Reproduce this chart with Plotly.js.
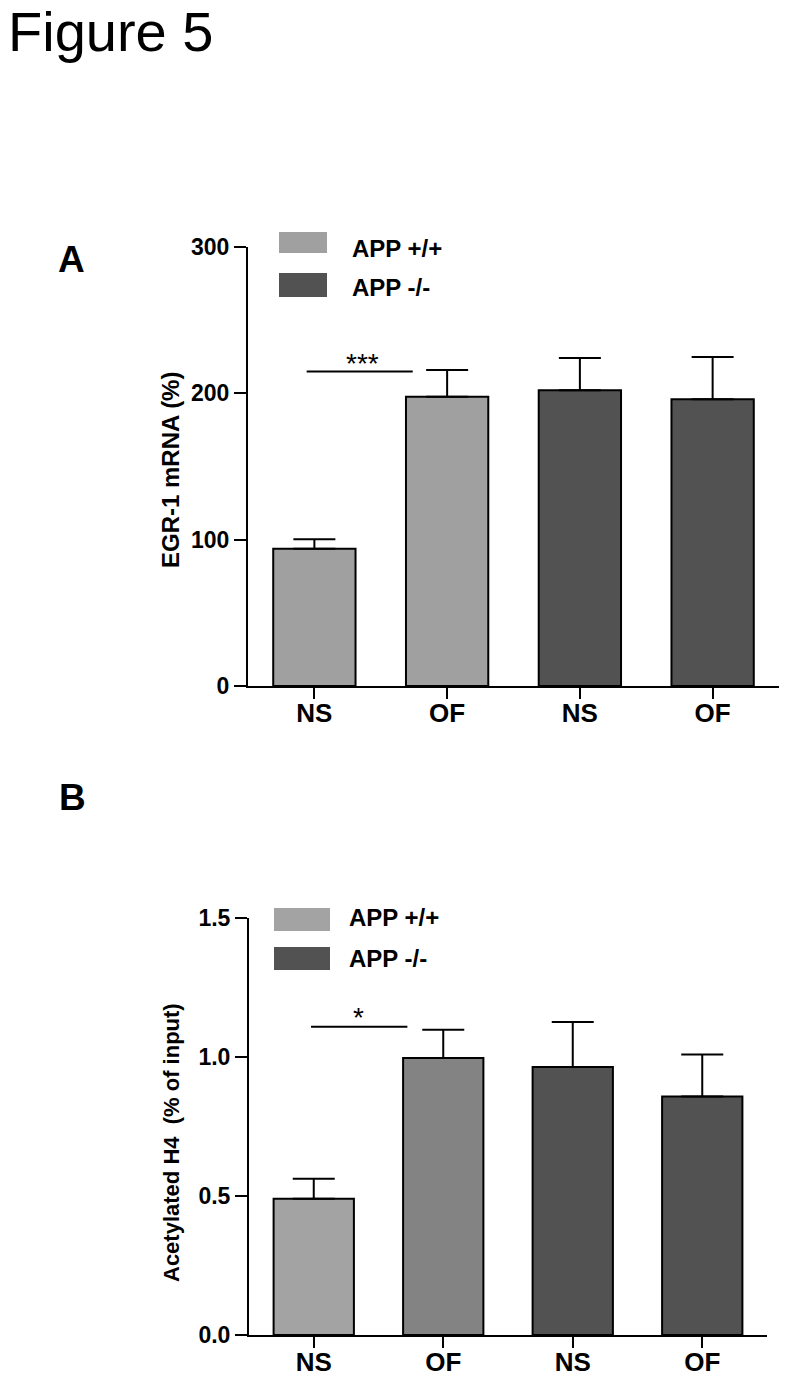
<!DOCTYPE html>
<html><head><meta charset="utf-8">
<script src="https://cdn.plot.ly/plotly-3.0.1.min.js"></script>
<style>body{margin:0;background:#fff}#chart{width:788px;height:1379px}</style>
</head><body><div id="chart"></div>
<script>
// ---- data ----
const tickLabels = ['NS', 'OF', 'NS', 'OF'];
const groups = ['APP +/+', 'APP -/-'];
const egrValues = [93.8, 197.7, 202.1, 195.9];
const egrErrors = [6.5, 18.3, 22.0, 28.9];
const h4Values = [0.49, 0.996, 0.964, 0.858];
const h4Errors = [0.072, 0.102, 0.162, 0.151];
const egrTicks = [0, 100, 200, 300];
const h4Ticks = [0, 0.5, 1.0, 1.5];
const h4TickText = ['0.0', '0.5', '1.0', '1.5'];
const sigA = {label: '***', from: 0, to: 1, y: 215};
const sigB = {label: '*', from: 0, to: 1, y: 1.109};

// ---- styles ----
const colA = ['#a0a0a0', '#a0a0a0', '#525252', '#525252'];
const colB = ['#a3a3a3', '#838383', '#525252', '#525252'];
const legendCols = ['#a0a0a0', '#525252'];
const W = 788, H = 1379;
const px = v => v / W, py = v => 1 - v / H;
const FONT = 'Liberation Sans, Arial, Helvetica, sans-serif';
const idx = tickLabels.map((_, i) => i);

function barTrace(vals, errs, cols, xa, ya) {
  return {
    type: 'bar', x: idx, y: vals, width: 0.62, xaxis: xa, yaxis: ya,
    marker: {color: cols, line: {color: '#000', width: 2}},
    error_y: {type: 'data', array: errs, arrayminus: vals.map(() => 0), symmetric: false,
      color: '#000', thickness: 2, width: 21},
    showlegend: false, hoverinfo: 'skip'
  };
}

const data = [
  barTrace(egrValues, egrErrors, colA, 'x', 'y'),
  barTrace(h4Values, h4Errors, colB, 'x2', 'y2')
];

function xAxis(d0, d1, anchor) {
  return {domain: [px(d0), px(d1)], range: [-0.5, 3.5], anchor: anchor,
    tickvals: idx, ticktext: tickLabels, showline: true, linecolor: '#000', linewidth: 2,
    ticks: 'outside', ticklen: 11, tickwidth: 2, tickcolor: '#000', ticklabelstandoff: -8,
    tickfont: {family: FONT, size: 26, weight: 700, color: '#000'},
    showgrid: false, zeroline: false, fixedrange: true};
}
function yAxis(top, bottom, range, tv, tt, anchor) {
  return {domain: [py(bottom), py(top)], range: range, anchor: anchor,
    tickvals: tv, ticktext: tt, showline: true, linecolor: '#000', linewidth: 2,
    ticks: 'outside', ticklen: 12, tickwidth: 2, tickcolor: '#000',
    tickfont: {family: FONT, size: 23, weight: 700, color: '#000'},
    showgrid: false, zeroline: false, fixedrange: true};
}

const annotations = [
  {text: 'Figure 5', x: px(6), y: py(31.5), xref: 'paper', yref: 'paper', xanchor: 'left', yanchor: 'middle',
   showarrow: false, font: {family: FONT, size: 56, color: '#000'}},
  {text: 'A', x: px(71.5), y: py(259.5), xref: 'paper', yref: 'paper', xanchor: 'center', yanchor: 'middle',
   showarrow: false, font: {family: FONT, size: 37, weight: 700, color: '#000'}},
  {text: 'B', x: px(72), y: py(797), xref: 'paper', yref: 'paper', xanchor: 'center', yanchor: 'middle',
   showarrow: false, font: {family: FONT, size: 37, weight: 700, color: '#000'}},
  {text: 'EGR-1 mRNA (%)', x: px(171), y: py(470), xref: 'paper', yref: 'paper', textangle: -90,
   xanchor: 'center', yanchor: 'middle', showarrow: false, font: {family: FONT, size: 24, weight: 700, color: '#000'}},
  {text: 'Acetylated H4&nbsp;&nbsp;(% of input)', x: px(171), y: py(1143), xref: 'paper', yref: 'paper', textangle: -90,
   xanchor: 'center', yanchor: 'middle', showarrow: false, font: {family: FONT, size: 22, weight: 700, color: '#000'}},
  // legends
  {text: groups[0], x: px(350), y: py(248), xref: 'paper', yref: 'paper', xanchor: 'left', yanchor: 'middle',
   showarrow: false, font: {family: FONT, size: 24, weight: 700, color: '#000'}},
  {text: groups[1], x: px(350), y: py(287), xref: 'paper', yref: 'paper', xanchor: 'left', yanchor: 'middle',
   showarrow: false, font: {family: FONT, size: 24, weight: 700, color: '#000'}},
  {text: groups[0], x: px(347), y: py(917), xref: 'paper', yref: 'paper', xanchor: 'left', yanchor: 'middle',
   showarrow: false, font: {family: FONT, size: 24, weight: 700, color: '#000'}},
  {text: groups[1], x: px(347), y: py(958), xref: 'paper', yref: 'paper', xanchor: 'left', yanchor: 'middle',
   showarrow: false, font: {family: FONT, size: 24, weight: 700, color: '#000'}},
  // significance
  {text: sigA.label, x: 0.36, y: sigA.y, xref: 'x', yref: 'y', xanchor: 'center', yanchor: 'bottom', yshift: -10,
   showarrow: false, font: {family: FONT, size: 28, color: '#000'}},
  {text: sigB.label, x: 0.345, y: sigB.y, xref: 'x2', yref: 'y2', xanchor: 'center', yanchor: 'bottom', yshift: -8,
   showarrow: false, font: {family: FONT, size: 28, color: '#000'}}
];

const shapes = [
  {type: 'rect', xref: 'paper', yref: 'paper', x0: px(279), x1: px(327), y0: py(253), y1: py(232), fillcolor: legendCols[0], line: {width: 0}},
  {type: 'rect', xref: 'paper', yref: 'paper', x0: px(279), x1: px(327), y0: py(297), y1: py(273), fillcolor: legendCols[1], line: {width: 0}},
  {type: 'rect', xref: 'paper', yref: 'paper', x0: px(274), x1: px(330), y0: py(931), y1: py(908), fillcolor: colB[0], line: {width: 0}},
  {type: 'rect', xref: 'paper', yref: 'paper', x0: px(274), x1: px(330), y0: py(970), y1: py(947), fillcolor: colB[2], line: {width: 0}},
  {type: 'line', xref: 'x', yref: 'y', x0: sigA.from - 0.058, x1: sigA.to - 0.259, y0: sigA.y, y1: sigA.y, line: {color: '#000', width: 2}},
  {type: 'line', xref: 'x2', yref: 'y2', x0: sigB.from - 0.021, x1: sigB.to - 0.277, y0: sigB.y, y1: sigB.y, line: {color: '#000', width: 2}}
];

const layout = {
  width: W, height: H, margin: {l: 0, r: 0, t: 0, b: 0},
  paper_bgcolor: '#fff', plot_bgcolor: 'rgba(0,0,0,0)', showlegend: false,
  xaxis: xAxis(248, 779, 'y'),
  yaxis: yAxis(247, 686, [0, 300], egrTicks, egrTicks.map(String), 'x'),
  xaxis2: xAxis(249, 767, 'y2'),
  yaxis2: yAxis(918, 1335, [0, 1.5], h4Ticks, h4TickText, 'x2'),
  annotations: annotations, shapes: shapes
};
Plotly.newPlot('chart', data, layout, {staticPlot: true, displayModeBar: false});
</script></body></html>
